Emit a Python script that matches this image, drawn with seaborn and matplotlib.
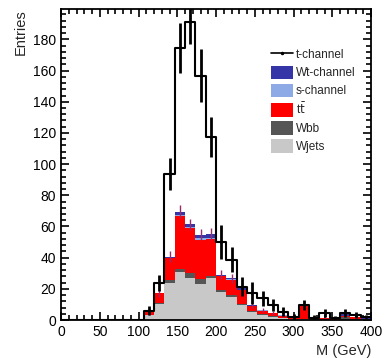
import numpy as np
import pandas as pd
import matplotlib
matplotlib.use("Agg")
import matplotlib.pyplot as plt
import seaborn as sns
from matplotlib.ticker import MultipleLocator
from matplotlib.lines import Line2D
from matplotlib.patches import Patch

# 30 bins from 0 to 400 GeV
nbins = 30
edges = np.linspace(0, 400, nbins + 1)
centers = 0.5 * (edges[:-1] + edges[1:])

# values for bins 8..29 (lower bins are empty)
wjets = [0]*8 + [3, 10, 24, 31, 27, 23, 27, 18, 15, 9.5, 5, 3.5, 2, 1, 0.5, 0.5, 0.3, 0.3, 0.2, 0.3, 0.2, 0.2]
wbb = [0]*8 + [0, 1, 1.5, 2, 3, 3, 1.5, 1, 1, 1, 0.5, 0.5, 0.3, 0.3, 0.2, 0.3, 0.2, 0.2, 0.1, 1.5, 0.5, 0.2]
ttbar = [0]*8 + [2, 6, 14, 33.5, 29, 25.5, 23.4, 9, 9.7, 8.5, 3.5, 2, 2, 1.5, 1, 8, 0.5, 0.5, 0.3, 0.5, 1, 0.5]
schan = [0]*8 + [0, 0, 0.5, 1, 0.8, 1, 1, 0.5, 0.5, 0.5, 0.3, 0.2, 0.1, 0.1, 0, 0.2, 0, 0, 0, 0, 0, 0]
wtchan = [0]*8 + [0, 0, 0.5, 2, 1.5, 2.2, 2.4, 0.5, 0.5, 1.5, 0.5, 0.3, 0.2, 0.2, 0.2, 0.5, 0.2, 0.2, 0.1, 1.5, 0.5, 0.2]
tchan = [0]*8 + [6, 23.6, 93.7, 174.4, 191, 156.6, 117.3, 50, 38.6, 21.4, 17.2, 13.8, 9.7, 5.4, 2, 9.7, 1.5, 4.7, 1.5, 4.7, 3, 2]
tchan_err = [0]*8 + [3, 5, 10, 16, 14, 17, 13, 11, 8, 6, 7, 5, 4, 3, 2, 3, 1.5, 2.5, 1, 2.5, 2, 1]
stack_err = [0]*8 + [1.5, 2.5, 3.5, 4, 3.5, 3.5, 4, 3, 3, 2.5, 2, 1.5, 1.2, 1, 0.8, 2, 0.6, 0.6, 0.4, 1, 0.8, 0.5]

procs = ["Wt-channel", "s-channel", "tt", "Wbb", "Wjets"]
colors = {"Wt-channel": "#3535a8", "s-channel": "#8eaae6", "tt": "#ff0000",
          "Wbb": "#555555", "Wjets": "#c8c8c8"}

df = pd.DataFrame({
    "M": np.tile(centers, 5),
    "w": np.concatenate([wtchan, schan, ttbar, wbb, wjets]),
    "proc": np.repeat(procs, len(centers)),
})
sig = pd.DataFrame({"M": centers, "w": tchan})

sns.set_style("ticks")
plt.rcParams['font.family'] = ['Liberation Sans', 'DejaVu Sans']

fig = plt.figure(figsize=(3.85, 3.58), dpi=100)
ax = fig.add_axes([61/385, 38/358, 310/385, 311/358])

sns.histplot(data=df, x="M", weights="w", hue="proc", hue_order=procs,
             multiple="stack", bins=nbins, binrange=(0, 400), element="step",
             palette=colors, linewidth=0, alpha=1, legend=False, ax=ax)

total = np.array(wjets) + np.array(wbb) + np.array(ttbar) + np.array(schan) + np.array(wtchan)
m = total > 0
ax.errorbar(centers[m], total[m], yerr=np.array(stack_err)[m], fmt='none',
            ecolor='#9a2a6a', elinewidth=1)

sns.histplot(data=sig, x="M", weights="w", bins=nbins, binrange=(0, 400),
             element="step", fill=False, color="black", linewidth=1.5, ax=ax)
t = np.array(tchan)
mt = t > 0
ax.errorbar(centers[mt], t[mt], yerr=np.array(tchan_err)[mt], fmt='.',
            color='black', markersize=2, elinewidth=2)

ax.set_xlim(0, 400)
ax.set_ylim(0, 199.5)
ax.xaxis.set_major_locator(MultipleLocator(50))
ax.xaxis.set_minor_locator(MultipleLocator(10))
ax.yaxis.set_major_locator(MultipleLocator(20))
ax.yaxis.set_minor_locator(MultipleLocator(4))
ax.tick_params(which='both', direction='in', top=True, right=True, width=1.2,
               labelsize=10, colors='black')
ax.tick_params(which='major', length=6)
ax.tick_params(which='minor', length=3.5)
for s in ax.spines.values():
    s.set_linewidth(1.3)
    s.set_color('black')

ax.set_xlabel("M (GeV)", loc='right', fontsize=10.5)
ax.set_ylabel("Entries", loc='top', fontsize=10.5, labelpad=4)

handles = [Line2D([], [], color='black', lw=1.2, marker='.', markersize=3)]
handles += [Patch(facecolor=colors[p], edgecolor='none') for p in procs]
labels = ["t-channel", "Wt-channel", "s-channel", "t$\\bar{\\mathrm{t}}$", "Wbb", "Wjets"]
ax.legend(handles, labels, loc='upper left', bbox_to_anchor=(0.677, 0.876),
          frameon=False, fontsize=8.5, handlelength=1.85, handleheight=1.4,
          labelspacing=0.36, handletextpad=0.25, borderaxespad=0, borderpad=0)

fig.savefig("out.png", dpi=100)
